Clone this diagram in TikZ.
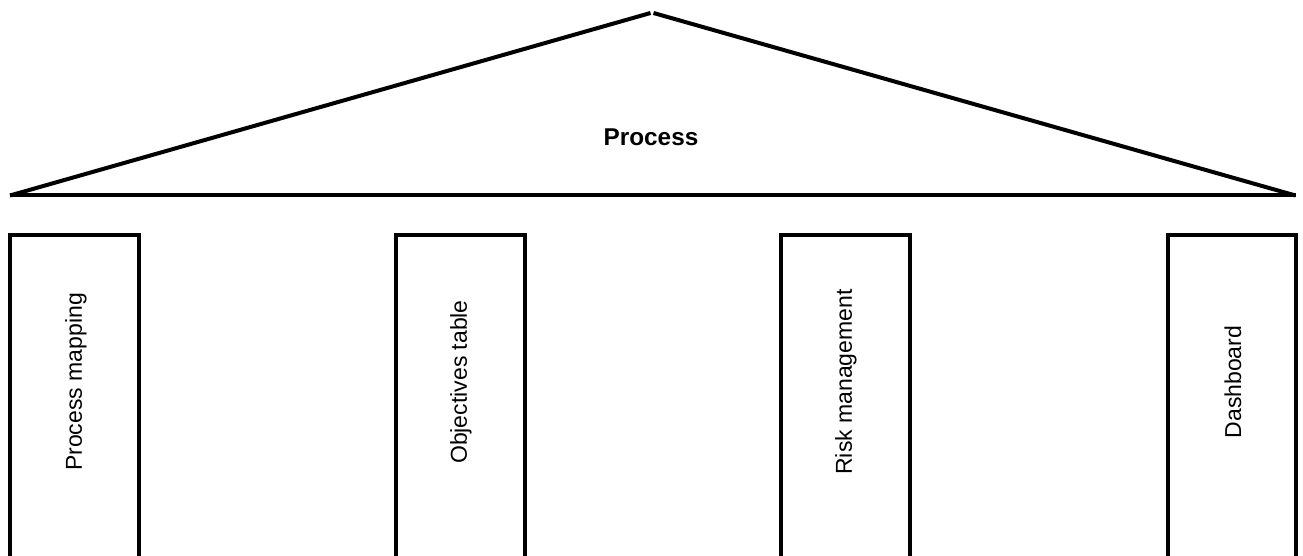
\documentclass[tikz,border=0pt]{standalone}
\usepackage{fontspec}
\setmainfont{Liberation Sans}
\begin{document}
\begin{tikzpicture}[x=1pt,y=-1pt,
  edge/.style={line width=4pt, line cap=butt, line join=miter},
  pillar/.style={line width=4pt},
  vlabel/.style={rotate=90, font=\fontsize{23}{27}\selectfont, inner sep=0pt},
  title/.style={font=\bfseries\fontsize{24.3}{28}\selectfont, inner sep=0pt}]
\useasboundingbox (0,0) rectangle (1303,556);
\coordinate (L) at (10,195.5);
\coordinate (R) at (1295.5,195.5);
\coordinate (AL) at (650.5,13);
\coordinate (AR) at (653.5,13);
\draw[edge] (L) -- (AL);
\draw[edge] (AR) -- (R);
\draw[edge] (L) -- (R);
\node[title] (proc) at (651,137) {Process};
% pillars
\draw[pillar] (10,600) -- (10,235) -- (138.5,235) -- (138.5,600);
\draw[pillar] (396,600) -- (396,235) -- (524.5,235) -- (524.5,600);
\draw[pillar] (781,600) -- (781,235) -- (909.5,235) -- (909.5,600);
\draw[pillar] (1168,600) -- (1168,235) -- (1296,235) -- (1296,600);
\node[vlabel] (p1) at (76,382) {Process mapping};
\node[vlabel] (p2) at (461,382) {Objectives table};
\node[vlabel] (p3) at (846,382) {Risk management};
\node[vlabel] (p4) at (1233,382) {Dashboard};
\end{tikzpicture}
\end{document}
